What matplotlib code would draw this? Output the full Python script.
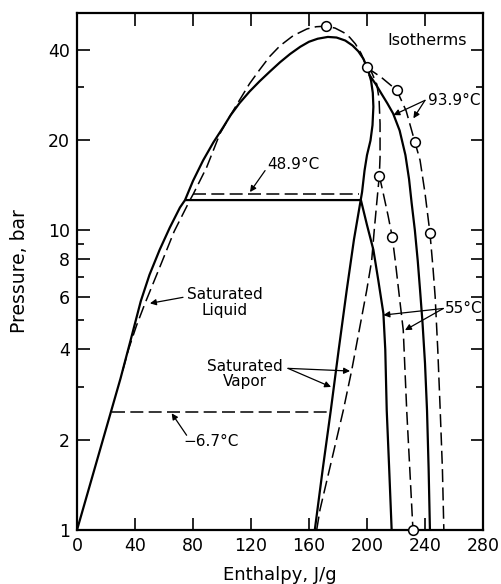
import matplotlib
matplotlib.use('Agg')
import matplotlib.pyplot as plt
from matplotlib.ticker import FixedLocator, FixedFormatter, NullFormatter

# ---- data (enthalpy J/g, pressure bar) ----
dome_h = [0, 30, 37, 44, 50, 57, 64, 71, 74.5, 80, 87, 94, 100.7, 106, 112, 119, 126, 133,
          140, 147, 154, 160, 166, 173, 179, 185, 190, 194, 197.5, 200.5, 202.8, 204, 204.4,
          203.8, 202.4, 200, 198.3, 196.6, 191, 186, 180.5, 175, 169.5, 164]
dome_p = [1.0, 3.2, 4.3, 5.8, 7.1, 8.6, 10.2, 11.9, 12.6, 14.6, 17.1, 19.6, 22.0, 24.2, 26.5, 29.0,
          31.4, 33.8, 36.3, 38.7, 40.9, 42.5, 43.5, 44.1, 43.9, 42.9, 41.3, 39.5, 37.3, 34.5,
          31.5, 28.7, 25.8, 22.4, 19.9, 17.8, 15.8, 13.4, 9.3, 6.3, 4.0, 2.5, 1.6, 1.0]

iso49_h = [74.5, 195.8, 200, 204.4, 207.8, 211.3, 212.6, 213.6, 215.3, 217]
iso49_p = [12.6, 12.6, 10.4, 8.6, 6.8, 5.28, 4.0, 2.51, 1.6, 1.0]

iso94_h = [201.5, 206, 210, 214, 218, 222.5, 226.5, 229, 230.8, 233, 235, 236.6, 238.3,
           240, 241.4, 242.5, 243.4]
iso94_p = [33.0, 30.7, 28.5, 26.5, 24.5, 21.5, 17.8, 14.8, 12.3, 10.0, 7.9, 6.3, 4.9,
           3.6, 2.5, 1.6, 1.0]

ddome_h = [31.5, 35.5, 41, 46.9, 57.2, 67, 77.9, 80.2, 89.4, 98.6, 105, 112.4, 119, 126,
           133, 140, 149, 158.6, 165, 171.7, 178, 184, 188, 192, 196, 199.8]
ddome_p = [3.4, 4.0, 4.8, 5.7, 7.55, 9.9, 12.6, 13.2, 16.2, 21.0, 23.8, 27.3, 30.8, 34.3,
           38.0, 41.2, 44.5, 46.9, 47.7, 47.9, 47.2, 45.6, 44.0, 41.8, 38.8, 34.9]

dvap_h = [199.8, 203.2, 206.7, 208.3, 209, 209, 208.5, 206.7, 205, 203.2, 199.8, 194.5,
          189.4, 183.6, 175.5, 167.6, 165.3]
dvap_p = [34.9, 33.6, 30.7, 27.5, 22.7, 17.5, 15.2, 12.3, 10.0, 7.9, 6.3, 4.6,
          3.4, 2.5, 1.7, 1.17, 1.0]

diso94_h = [199.8, 210, 220.5, 227, 233, 236.6, 240, 243.4, 245.5, 247, 248.8, 250.5, 252, 253]
diso94_p = [34.9, 32.3, 29.3, 25.0, 19.7, 17.1, 13.3, 9.8, 7.5, 6.0, 4.0, 2.5, 1.6, 1.0]

diso55_h = [208.5, 211.3, 214.5, 217.4, 219.5, 221.5, 225, 227.4, 229.5, 231.7]
diso55_p = [15.2, 13.2, 11.2, 9.5, 7.9, 6.5, 4.64, 2.5, 1.6, 1.0]

diso49_h = [80.2, 194.5]
diso49_p = [13.2, 13.2]

diso7_h = [24, 173]
diso7_p = [2.47, 2.47]

pts_h = [171.7, 199.8, 220.5, 233, 243.4, 208.5, 217.4, 231.7]
pts_p = [47.9, 34.9, 29.3, 19.7, 9.8, 15.2, 9.5, 1.0]

x_ticks = [0, 40, 80, 120, 160, 200, 240, 280]
y_major = [1, 2, 4, 6, 8, 10, 20, 40]
y_minor = [3, 5, 7, 9, 30]

plt.rcParams['font.family'] = ['DejaVu Sans']

fig = plt.figure(figsize=(5.02, 5.84), dpi=100)
ax = fig.add_axes([77 / 502, 54 / 584, 406 / 502, 517 / 584])
ax.set_yscale('log')
ax.set_xlim(0, 280)
ax.set_ylim(1, 53)

solid = dict(color='black', lw=1.6, solid_joinstyle='round', solid_capstyle='butt')
dashed = dict(color='black', lw=1.1, dashes=(8.5, 3.5))

ax.plot(dome_h, dome_p, **solid)
ax.plot(iso49_h, iso49_p, **solid)
ax.plot(iso94_h, iso94_p, **solid)
ax.plot(ddome_h, ddome_p, **dashed)
ax.plot(dvap_h, dvap_p, **dashed)
ax.plot(diso94_h, diso94_p, **dashed)
ax.plot(diso55_h, diso55_p, **dashed)
ax.plot(diso49_h, diso49_p, **dashed)
ax.plot(diso7_h, diso7_p, **dashed)
ax.plot(pts_h, pts_p, 'o', ms=7, mfc='white', mec='black', mew=1.1, clip_on=False, zorder=5)

arrow = dict(arrowstyle='-|>', color='black', lw=0.9, mutation_scale=9, shrinkA=0, shrinkB=0)
fs = 11

ax.text(241.4, 43, 'Isotherms', fontsize=11.5, ha='center', va='center')
ax.text(242, 27.1, '93.9°C', fontsize=fs, ha='left', va='center')
ax.annotate('', xy=(218.2, 24.2), xytext=(240, 27.1), arrowprops=arrow)
ax.annotate('', xy=(232, 23.6), xytext=(240, 27.1), arrowprops=arrow)

ax.text(131, 16.5, '48.9°C', fontsize=fs, ha='left', va='center')
ax.annotate('', xy=(119.3, 13.4), xytext=(129.7, 15.8), arrowprops=arrow)

ax.text(102, 5.75, 'Saturated\nLiquid', fontsize=fs, ha='center', va='center', linespacing=1.05)
ax.annotate('', xy=(50.3, 5.7), xytext=(73.1, 5.97), arrowprops=arrow)

ax.text(116, 3.31, 'Saturated\nVapor', fontsize=fs, ha='center', va='center', linespacing=1.05)
ax.annotate('', xy=(188.3, 3.39), xytext=(145.5, 3.46), arrowprops=arrow)
ax.annotate('', xy=(175.2, 3.0), xytext=(145.5, 3.46), arrowprops=arrow)

ax.text(73.1, 1.97, '\u22126.7°C', fontsize=fs, ha='left', va='center')
ax.annotate('', xy=(65.3, 2.45), xytext=(75.6, 2.07), arrowprops=arrow)

ax.text(253.8, 5.48, '55°C', fontsize=fs, ha='left', va='center')
ax.annotate('', xy=(211.3, 5.21), xytext=(252.6, 5.48), arrowprops=arrow)
ax.annotate('', xy=(226.2, 4.64), xytext=(252.6, 5.48), arrowprops=arrow)

# axes styling
for s in ax.spines.values():
    s.set_linewidth(1.6)
ax.xaxis.set_major_locator(FixedLocator(x_ticks))
ax.xaxis.set_major_formatter(FixedFormatter([str(v) for v in x_ticks]))
ax.yaxis.set_major_locator(FixedLocator(y_major))
ax.yaxis.set_major_formatter(FixedFormatter([str(v) for v in y_major]))
ax.yaxis.set_minor_locator(FixedLocator(y_minor))
ax.yaxis.set_minor_formatter(NullFormatter())
ax.xaxis.set_minor_locator(FixedLocator([]))
ax.tick_params(which='both', direction='in', top=True, right=True, width=1.2, labelsize=12.5, pad=5)
ax.tick_params(which='major', length=9)
ax.tick_params(which='minor', length=5)

ax.set_xlabel('Enthalpy, J/g', fontsize=13, labelpad=8)
ax.set_ylabel('Pressure, bar', fontsize=13.5, labelpad=14)

fig.savefig('out.png', dpi=100)
